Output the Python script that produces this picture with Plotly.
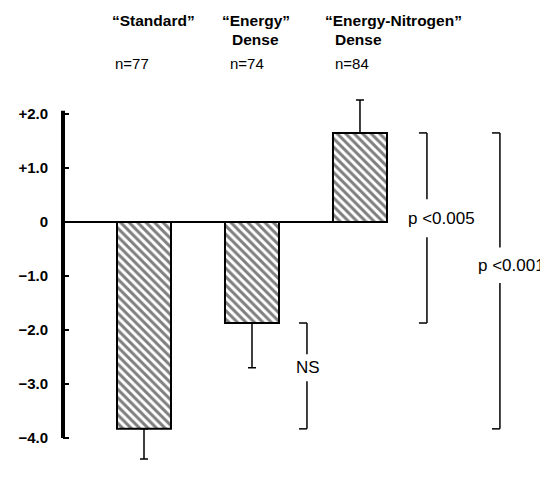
import plotly.graph_objects as go

# ---- data ----
categories = ["Standard", "Energy Dense", "Energy-Nitrogen Dense"]
means = [-3.83, -1.87, 1.65]
err_plus = [0.0, 0.0, 0.61]
err_minus = [0.56, 0.83, 0.0]
header_line1 = ["\u201cStandard\u201d", "\u201cEnergy\u201d", "\u201cEnergy-Nitrogen\u201d"]
header_line2 = ["", "Dense", "Dense"]
n_labels = ["n=77", "n=74", "n=84"]
tick_vals = [2, 1, 0, -1, -2, -3, -4]
tick_text = ["+2.0", "+1.0", "0", "\u22121.0", "\u22122.0", "\u22123.0", "\u22124.0"]
# significance brackets: (top bar index, bottom bar index, label, label y)
brackets = [(2, 1, "p <0.005", 0.07), (2, 0, "p <0.001", -0.80), (1, 0, "NS", -2.70)]

# ---- style ----
FONT = "Liberation Sans, Arial, sans-serif"
bracket_x = [2.62, 3.296, 1.509]
bracket_gap = [0.35, 0.33, 0.25]
label_dx = [15, 12, 1]
arm = 0.074
line1_shift = [-34, -32, -37]
line2_shift = [0, -22, -27]
n_shift = [-31, -24, -27]

xs = list(range(len(categories)))

fig = go.Figure()
fig.add_trace(go.Bar(
    x=xs, y=means, width=0.5,
    marker=dict(color="white", line=dict(color="black", width=2),
                pattern=dict(shape="\\", fgcolor="black", bgcolor="white",
                             size=6, solidity=0.5)),
    error_y=dict(type="data", symmetric=False, array=err_plus, arrayminus=err_minus,
                 color="black", thickness=1.5, width=4),
    hovertext=categories,
))

shapes = []
# left axis line
shapes.append(dict(type="line", xref="paper", yref="y", x0=0, x1=0, y0=-4.0, y1=2.06,
                   line=dict(color="black", width=4)))
# zero line to right edge of last bar
shapes.append(dict(type="line", xref="x", yref="y", x0=-0.75, x1=xs[-1] + 0.25, y0=0, y1=0,
                   line=dict(color="black", width=2)))

annotations = []
for k, (it, ib, lab, ly) in enumerate(brackets):
    top, bot = means[it], means[ib]
    bx, g = bracket_x[k], bracket_gap[k]
    ln = dict(color="black", width=1.5)
    shapes += [
        dict(type="line", xref="x", yref="y", x0=bx, x1=bx, y0=top, y1=ly + g, line=ln),
        dict(type="line", xref="x", yref="y", x0=bx, x1=bx, y0=ly - g, y1=bot, line=ln),
        dict(type="line", xref="x", yref="y", x0=bx - arm, x1=bx, y0=top, y1=top, line=ln),
        dict(type="line", xref="x", yref="y", x0=bx - arm, x1=bx, y0=bot, y1=bot, line=ln),
    ]
    annotations.append(dict(x=bx, y=ly, xref="x", yref="y", text=lab, showarrow=False,
                            xanchor="center", yanchor="middle", xshift=label_dx[k],
                            font=dict(family=FONT, size=17, color="black")))

for i in xs:
    annotations.append(dict(x=i, y=1.15, xref="x", yref="paper", text="<b>%s</b>" % header_line1[i],
                            showarrow=False, xanchor="left", yanchor="middle", xshift=line1_shift[i],
                            font=dict(family=FONT, size=15.5, color="black")))
    if header_line2[i]:
        annotations.append(dict(x=i, y=1.10, xref="x", yref="paper", text="<b>%s</b>" % header_line2[i],
                                showarrow=False, xanchor="left", yanchor="middle", xshift=line2_shift[i],
                                font=dict(family=FONT, size=15.5, color="black")))
    annotations.append(dict(x=i, y=1.0425, xref="x", yref="paper", text=n_labels[i],
                            showarrow=False, xanchor="left", yanchor="middle", xshift=n_shift[i],
                            font=dict(family=FONT, size=15, color="black")))

# page body has an 8px margin: shrink the figure and margins to compensate
fig.update_layout(
    width=540, height=479,
    margin=dict(l=55, r=0, t=72, b=7, autoexpand=False),
    paper_bgcolor="white", plot_bgcolor="white",
    showlegend=False,
    shapes=shapes, annotations=annotations,
    xaxis=dict(range=[-0.75, 3.741], visible=False, fixedrange=True),
    yaxis=dict(range=[-4.777, 2.63], tickvals=tick_vals, ticktext=tick_text,
               ticks="inside", ticklen=6, tickwidth=2, tickcolor="black",
               showline=False, showgrid=False, zeroline=False,
               ticklabelstandoff=14,
               tickfont=dict(family=FONT, size=15, color="black", weight="bold")),
)

fig.write_html("out.html")
